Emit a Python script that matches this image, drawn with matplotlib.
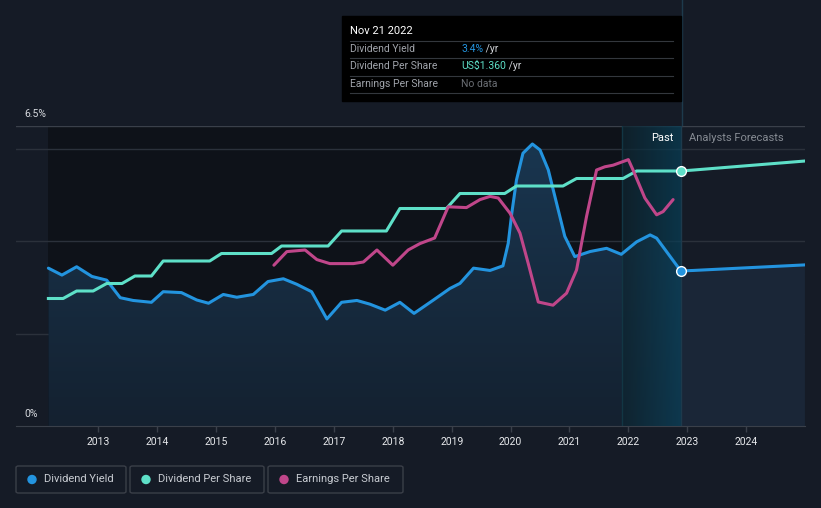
import matplotlib
matplotlib.use("Agg")
import matplotlib.pyplot as plt
import matplotlib.patches as patches
import numpy as np
from matplotlib.colors import LinearSegmentedColormap

# Dividend yield (%) - past
yield_dates = [2012.15, 2012.38, 2012.63, 2012.89, 2013.14, 2013.37, 2013.59, 2013.90,
               2014.10, 2014.41, 2014.67, 2014.87, 2015.12, 2015.35, 2015.63, 2015.88,
               2016.14, 2016.37, 2016.62, 2016.88, 2017.13, 2017.39, 2017.61, 2017.87,
               2018.12, 2018.36, 2018.69, 2018.97, 2019.14, 2019.37, 2019.65, 2019.87,
               2019.96, 2020.02, 2020.10, 2020.21, 2020.37, 2020.50, 2020.64, 2020.78,
               2020.92, 2021.09, 2021.35, 2021.63, 2021.88, 2022.14, 2022.37, 2022.48,
               2022.89]
yield_vals = [3.42, 3.27, 3.45, 3.24, 3.16, 2.78, 2.72, 2.68,
              2.91, 2.89, 2.73, 2.66, 2.85, 2.79, 2.85, 3.13,
              3.19, 3.07, 2.91, 2.32, 2.68, 2.72, 2.64, 2.51,
              2.68, 2.44, 2.73, 2.98, 3.09, 3.42, 3.37, 3.47,
              3.96, 4.61, 5.33, 5.91, 6.11, 5.98, 5.55, 4.83,
              4.11, 3.67, 3.78, 3.85, 3.72, 3.99, 4.14, 4.07,
              3.36]
yield_fc_dates = [2022.89, 2023.10, 2024.99]
yield_fc_vals = [3.36, 3.37, 3.49]

# Dividend per share (US$)
dps_dates = [2012.15, 2012.40, 2012.63, 2012.91, 2013.14, 2013.40, 2013.62, 2013.90,
             2014.10, 2014.89, 2015.09, 2015.94, 2016.11, 2016.90, 2017.13, 2017.89,
             2018.12, 2018.91, 2019.14, 2019.90, 2020.10, 2020.89, 2021.12, 2021.91,
             2022.14, 2022.89]
dps_vals = [0.68, 0.68, 0.72, 0.72, 0.76, 0.76, 0.80, 0.80,
            0.88, 0.88, 0.92, 0.92, 0.96, 0.96, 1.04, 1.04,
            1.16, 1.16, 1.24, 1.24, 1.28, 1.28, 1.32, 1.32,
            1.36, 1.36]
dps_fc_dates = [2022.89, 2023.10, 2024.99]
dps_fc_vals = [1.36, 1.365, 1.413]

# Earnings per share (US$)
eps_dates = [2015.98, 2016.20, 2016.51, 2016.71, 2016.93, 2017.33, 2017.50, 2017.73,
             2018.00, 2018.26, 2018.46, 2018.71, 2018.94, 2019.25, 2019.48, 2019.65,
             2019.79, 2019.99, 2020.16, 2020.30, 2020.47, 2020.72, 2020.95, 2021.12,
             2021.29, 2021.46, 2021.60, 2021.74, 2022.00, 2022.08, 2022.28, 2022.48,
             2022.59, 2022.76]
eps_vals = [2.01, 2.18, 2.20, 2.08, 2.03, 2.03, 2.05, 2.20,
            2.01, 2.20, 2.28, 2.35, 2.74, 2.73, 2.83, 2.87,
            2.85, 2.66, 2.41, 2.03, 1.55, 1.51, 1.66, 1.95,
            2.62, 3.20, 3.24, 3.26, 3.33, 3.20, 2.85, 2.64,
            2.68, 2.83]

years = list(range(2013, 2025))
today = 2022.89

BG = "#151b26"
BLUE = "#2394df"
TEAL = "#5ee0c8"
PINK = "#c0468a"

W, H = 821, 508
fig = plt.figure(figsize=(W / 100, H / 100), dpi=100, facecolor=BG)


def fx(px):
    return px / W


def fy(py):
    return 1 - py / H


ax_l, ax_r, ax_t, ax_b = 16, 805, 126, 426
ax = fig.add_axes([fx(ax_l), fy(ax_b), fx(ax_r) - fx(ax_l), fy(ax_t) - fy(ax_b)])
ax.set_facecolor("none")

ax_d = ax.twinx()
ax_d.set_ylim(0, 1.6)
ax_e = ax.twinx()
ax_e.set_ylim(0, 3.75)
for a in (ax, ax_d, ax_e):
    for s in a.spines.values():
        s.set_visible(False)
    a.set_yticks([])
ax.spines["bottom"].set_visible(True)
ax.spines["bottom"].set_color("#3a404a")

# dark past background
ax.axvspan(yield_dates[0], today, color="#0e1219", zorder=0, lw=0)

# gridlines
for g in (2, 4, 6):
    ax.axhline(g, color="#2b313b", lw=1, zorder=1)
ax.axhline(6.5, color="#3a404a", lw=1, zorder=1)

# yield area fill with gradient (past)
verts = [(yield_dates[0], 0)] + list(zip(yield_dates, yield_vals)) + [(today, 0)]
clip = patches.Polygon(verts, closed=True, facecolor="none", edgecolor="none")
ax.add_patch(clip)
grad = np.linspace(1, 0, 100).reshape(-1, 1)
cm_past = LinearSegmentedColormap.from_list("p", ["#142130", "#193650"])
img = ax.imshow(grad, extent=(yield_dates[0], today, 0, 6.2), aspect="auto",
                cmap=cm_past, origin="upper", zorder=2)
img.set_clip_path(clip)
ax.fill_between(yield_fc_dates, yield_fc_vals, 0, color="#1a2637", lw=0, zorder=2)

# past band gradient
band = np.linspace(0, 1, 100).reshape(1, -1)
cm_band = LinearSegmentedColormap.from_list("b", ["#0f2530", "#0b4058"])
ax.imshow(band, extent=(2021.89, today, 0, 6.5), aspect="auto", cmap=cm_band,
          alpha=0.75, zorder=3)
ax.axvline(2021.89, color="#123644", lw=1, zorder=3)
ax.axvline(today, color="#1d3a4c", lw=1, zorder=3)
ax.set_xlim(2011.6, 2025.0)
ax.set_ylim(0, 6.5)

# lines
ax.plot(yield_dates, yield_vals, color=BLUE, lw=2.2, zorder=5, solid_capstyle="round",
        solid_joinstyle="round")
ax.plot(yield_fc_dates, yield_fc_vals, color=BLUE, lw=2.2, zorder=5)
ax_d.plot(dps_dates, dps_vals, color=TEAL, lw=2.2, zorder=5, solid_joinstyle="round")
ax_d.plot(dps_fc_dates, dps_fc_vals, color=TEAL, lw=2.2, zorder=5)
ax_e.plot(eps_dates, eps_vals, color=PINK, lw=2.2, zorder=5, solid_capstyle="round",
          solid_joinstyle="round")
ax_e.plot([today], [yield_fc_vals[0] * 3.75 / 6.5], "o", ms=7, color=BLUE, mec="white",
          mew=1, zorder=6)
ax_e.plot([today], [dps_fc_vals[0] * 3.75 / 1.6], "o", ms=7, color=TEAL, mec="white",
          mew=1, zorder=6)

# x ticks
ax.set_xticks(years)
ax.set_xticklabels([str(y) for y in years])
ax.tick_params(axis="x", colors="#3a404a", length=4, width=1, pad=4, labelsize=7.5,
               labelcolor="#e6e8eb")
for t in ax.get_xticklabels():
    t.set_family("Roboto")

# tooltip vertical line above the plot area
fig.add_artist(plt.Line2D([fx(681.5), fx(681.5)], [fy(0), fy(ax_t)], color="#1d3a4c",
                          lw=1, zorder=-1))

# y labels
fig.text(fx(24), fy(114), "6.5%", color="#d6d9de", fontsize=7.5, va="center", family="Roboto")
fig.text(fx(24), fy(414), "0%", color="#d6d9de", fontsize=7.5, va="center", family="Roboto")

# Past / forecasts
fig.text(fx(673), fy(138), "Past", color="#ffffff", fontsize=8, ha="right", va="center",
         family="Roboto")
fig.text(fx(689), fy(138), "Analysts Forecasts", color="#868b93", fontsize=8, va="center",
         family="Roboto")

# tooltip box
fig.add_artist(patches.Rectangle((fx(342), fy(101)), fx(681) - fx(342), fy(16) - fy(101),
                                 transform=fig.transFigure, color="black", zorder=10))
fig.text(fx(350), fy(31), "Nov 21 2022", color="white", fontsize=8, va="center",
         family="Roboto", zorder=11)
for sy in (41, 58, 76, 93):
    fig.add_artist(plt.Line2D([fx(350), fx(673)], [fy(sy), fy(sy)], color="#33373d",
                              lw=0.8, zorder=11))
rows = [("Dividend Yield", "3.4%", BLUE, " /yr", 49),
        ("Dividend Per Share", "US$1.360", TEAL, " /yr", 66),
        ("Earnings Per Share", "No data", "#6b6f75", "", 84)]
for label, val, col, suf, ry in rows:
    fig.text(fx(350), fy(ry), label, color="#a0a4ab", fontsize=7.5, va="center",
             family="Roboto", zorder=11)
    t = fig.text(fx(461), fy(ry), val, color=col, fontsize=7.5, va="center",
                 family="Roboto", zorder=11)
    if suf:
        fig.canvas.draw()
        bb = t.get_window_extent()
        fig.text(bb.x1 / W, fy(ry), suf, color="#d0d3d8", fontsize=7.5, va="center",
                 family="Roboto", zorder=11)

# legend
legend = [("Dividend Yield", BLUE, 16, 126), ("Dividend Per Share", TEAL, 130, 264),
          ("Earnings Per Share", PINK, 268, 403)]
for name, col, x0, x1 in legend:
    fig.add_artist(patches.FancyBboxPatch(
        (fx(x0), fy(493)), fx(x1) - fx(x0), fy(466) - fy(493),
        boxstyle="round,pad=0,rounding_size=0.003", transform=fig.transFigure,
        facecolor="none", edgecolor="#3a3f48", lw=1))
    fig.add_artist(patches.Ellipse((fx(x0 + 16), fy(479.5)), 8 / W, 8 / H,
                                   transform=fig.transFigure, color=col))
    fig.text(fx(x0 + 28), fy(479.5), name, color="#c8ccd2", fontsize=8, va="center",
             family="Roboto")

fig.savefig("out.png", dpi=100, facecolor=BG)
